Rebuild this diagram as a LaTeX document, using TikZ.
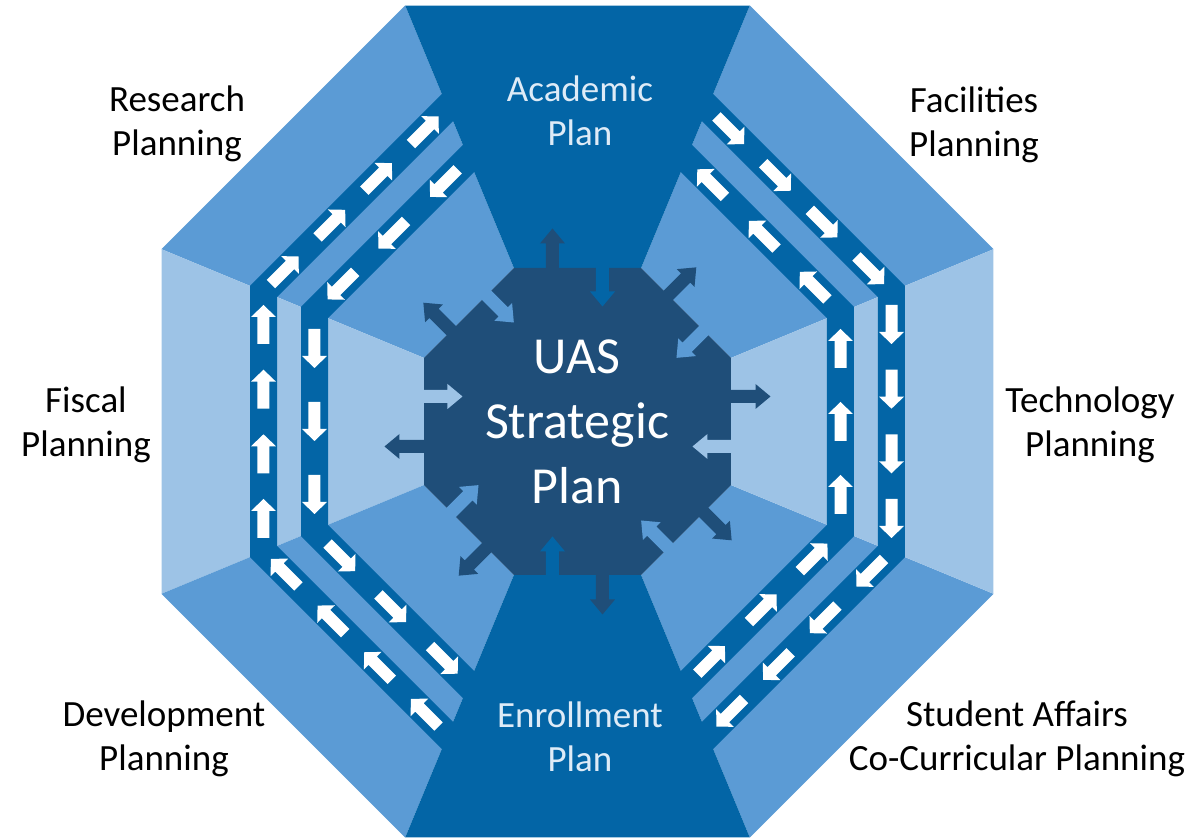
\documentclass[tikz,border=0pt]{standalone}
\usepackage{fontspec}
\setmainfont{Carlito}
\usetikzlibrary{calc}
\definecolor{navy}{HTML}{1F4E79}
\definecolor{deep}{HTML}{0365A6}
\definecolor{mid}{HTML}{5B9BD5}
\definecolor{pale}{HTML}{9DC3E6}
\definecolor{ice}{HTML}{DEEBF7}
\newcommand{\octo}[1]{(22.5:#1) -- (67.5:#1) -- (112.5:#1) -- (157.5:#1) -- (202.5:#1) -- (247.5:#1) -- (292.5:#1) -- (337.5:#1) -- cycle}
\tikzset{
  flow/.pic={
    \fill[white] (-19.5,-6) -- (7.5,-6) -- (7.5,-12.5) -- (19.5,0) -- (7.5,12.5) -- (7.5,6) -- (-19.5,6) -- cycle;
  },
  spoke/.pic={
    \fill (0,-6.5) -- (27,-6.5) -- (27,-12.5) -- (42,0) -- (27,12.5) -- (27,6.5) -- (0,6.5) -- cycle;
  },
  sidetext/.style={
  font=\fontsize{18.5}{22}\selectfont,
  align=center,
  inner sep=0pt,
  },
}

\begin{document}
\begin{tikzpicture}[
  x=0.5pt, y=0.5pt,
  plantext/.style={sidetext, text=ice},
  coretext/.style={sidetext, text=white, font=\fontsize{26}{32.5}\selectfont}
  ]
\useasboundingbox (-577.5,-417.5) rectangle (611.5,421.5);

% the side sectors
\foreach \a/\c in {22.5/mid,112.5/mid,157.5/pale,202.5/mid,292.5/mid,337.5/pale}
  \fill[\c] (\a:450.27) -- (\a+45:450.27) -- (\a+45:166.15) -- (\a:166.15) -- cycle;

% the two tracks
\fill[deep, even odd rule] \octo{354.48} \octo{325.26};
\fill[deep, even odd rule] \octo{299.28} \octo{270.06};

% the plan sectors
\foreach \a in {67.5,247.5}
  \fill[deep] (\a:450.27) -- (\a+45:450.27) -- (\a+45:166.15) -- (\a:166.15) -- cycle;

% arrows on the tracks
\foreach \y in {-97,-32.3,32.3,97}{
  \pic[rotate=90] at (-314,\y) {flow};
  \pic[rotate=-90] at (314,\y) {flow};
}
\foreach \y in {-73,0,73}{
  \pic[rotate=-90] at (-263,\y) {flow};
  \pic[rotate=90] at (263,\y) {flow};
}
\foreach \d in {30,96,162,228}{
  \pic[rotate=45] at ($(-314,130)+(45:\d)$) {flow};
  \pic[rotate=135] at ($(-314,-130)+(-45:\d)$) {flow};
  \pic[rotate=-45] at ($(314,130)+(135:\d)$) {flow};
  \pic[rotate=-135] at ($(314,-130)+(-135:\d)$) {flow};
}
\foreach \d in {38,110,183}{
  \pic[rotate=-135] at ($(-263,109)+(45:\d)$) {flow};
  \pic[rotate=-45] at ($(-263,-109)+(-45:\d)$) {flow};
  \pic[rotate=135] at ($(263,109)+(135:\d)$) {flow};
  \pic[rotate=45] at ($(263,-109)+(-135:\d)$) {flow};
}

% the core and its arrows
\fill[navy] \octo{166.15};
\foreach \k/\c in {0/deep,1/mid,2/pale,3/mid,4/deep,5/mid,6/pale,7/mid}{
  \pic[rotate=90-45*\k, fill=navy] at ($(90-45*\k:151)+(180-45*\k:25)$) {spoke};
  \pic[rotate=270-45*\k, fill=\c] at ($(90-45*\k:157)+(-45*\k:25)$) {spoke};
}

\node[coretext] (core) at (-0.5,-0.5) {UAS\\Strategic\\Plan};
\node[plantext] (academic) at (2.5,310.5) {Academic\\Plan};
\node[plantext] (enrollment) at (2.5,-315.5) {Enrollment\\Plan};

\node[sidetext] (research) at (-400.5,297.5) {Research\\Planning};
\node[sidetext] (facilities) at (396.5,296.5) {Facilities\\Planning};
\node[sidetext] (fiscal) at (-491.5,-3.5) {Fiscal\\Planning};
\node[sidetext] (technology) at (512.5,-3.5) {Technology\\Planning};
\node[sidetext] (development) at (-413.5,-317.5) {Development\\Planning};
\node[sidetext] (student) at (439.5,-317.5) {Student Affairs\\Co-Curricular Planning};

\end{tikzpicture}
\end{document}
